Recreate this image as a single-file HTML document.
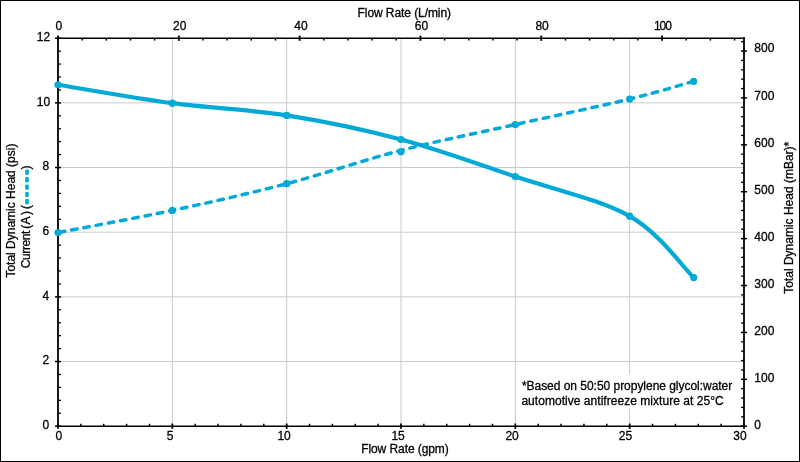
<!DOCTYPE html>
<html><head><meta charset="utf-8"><title>Pump curve</title>
<style>
html,body{margin:0;padding:0;background:#fff;}
body{width:800px;height:462px;overflow:hidden;position:relative;font-family:"Liberation Sans",sans-serif;}
</style></head><body>
<svg width="800" height="462" viewBox="0 0 800 462" style="position:absolute;left:0;top:0">
<rect x="0" y="0" width="800" height="462" fill="#fff"/>
<g stroke="#cacaca" stroke-width="1" fill="none">
<line x1="172.33" y1="38.2" x2="172.33" y2="426.2"/>
<line x1="286.67" y1="38.2" x2="286.67" y2="426.2"/>
<line x1="401.0" y1="38.2" x2="401.0" y2="426.2"/>
<line x1="515.33" y1="38.2" x2="515.33" y2="426.2"/>
<line x1="629.67" y1="38.2" x2="629.67" y2="426.2"/>
<line x1="58.0" y1="361.53" x2="744.0" y2="361.53"/>
<line x1="58.0" y1="296.87" x2="744.0" y2="296.87"/>
<line x1="58.0" y1="232.2" x2="744.0" y2="232.2"/>
<line x1="58.0" y1="167.53" x2="744.0" y2="167.53"/>
<line x1="58.0" y1="102.87" x2="744.0" y2="102.87"/>
</g>
<rect x="518" y="374.5" width="218" height="34" fill="#fff"/>
<g stroke="#000" fill="none" stroke-linecap="square">
<line x1="58.0" y1="38.2" x2="744.0" y2="38.2" stroke-width="1.65"/>
<line x1="58.0" y1="426.2" x2="744.0" y2="426.2" stroke-width="1.65"/>
<line x1="58.0" y1="38.2" x2="58.0" y2="426.2" stroke-width="1.8"/>
<line x1="744.0" y1="38.2" x2="744.0" y2="426.2" stroke-width="1.8"/>
</g>
<g stroke="#000" fill="none">
<line x1="55.0" y1="426.20" x2="61.0" y2="426.20" stroke-width="1.5"/>
<line x1="58.0" y1="413.27" x2="60.9" y2="413.27" stroke-width="1.3"/>
<line x1="58.0" y1="400.33" x2="60.9" y2="400.33" stroke-width="1.3"/>
<line x1="58.0" y1="387.40" x2="60.9" y2="387.40" stroke-width="1.3"/>
<line x1="58.0" y1="374.47" x2="60.9" y2="374.47" stroke-width="1.3"/>
<line x1="55.0" y1="361.53" x2="61.0" y2="361.53" stroke-width="1.5"/>
<line x1="58.0" y1="348.60" x2="60.9" y2="348.60" stroke-width="1.3"/>
<line x1="58.0" y1="335.67" x2="60.9" y2="335.67" stroke-width="1.3"/>
<line x1="58.0" y1="322.73" x2="60.9" y2="322.73" stroke-width="1.3"/>
<line x1="58.0" y1="309.80" x2="60.9" y2="309.80" stroke-width="1.3"/>
<line x1="55.0" y1="296.87" x2="61.0" y2="296.87" stroke-width="1.5"/>
<line x1="58.0" y1="283.93" x2="60.9" y2="283.93" stroke-width="1.3"/>
<line x1="58.0" y1="271.00" x2="60.9" y2="271.00" stroke-width="1.3"/>
<line x1="58.0" y1="258.07" x2="60.9" y2="258.07" stroke-width="1.3"/>
<line x1="58.0" y1="245.13" x2="60.9" y2="245.13" stroke-width="1.3"/>
<line x1="55.0" y1="232.20" x2="61.0" y2="232.20" stroke-width="1.5"/>
<line x1="58.0" y1="219.27" x2="60.9" y2="219.27" stroke-width="1.3"/>
<line x1="58.0" y1="206.33" x2="60.9" y2="206.33" stroke-width="1.3"/>
<line x1="58.0" y1="193.40" x2="60.9" y2="193.40" stroke-width="1.3"/>
<line x1="58.0" y1="180.47" x2="60.9" y2="180.47" stroke-width="1.3"/>
<line x1="55.0" y1="167.53" x2="61.0" y2="167.53" stroke-width="1.5"/>
<line x1="58.0" y1="154.60" x2="60.9" y2="154.60" stroke-width="1.3"/>
<line x1="58.0" y1="141.67" x2="60.9" y2="141.67" stroke-width="1.3"/>
<line x1="58.0" y1="128.73" x2="60.9" y2="128.73" stroke-width="1.3"/>
<line x1="58.0" y1="115.80" x2="60.9" y2="115.80" stroke-width="1.3"/>
<line x1="55.0" y1="102.87" x2="61.0" y2="102.87" stroke-width="1.5"/>
<line x1="58.0" y1="89.93" x2="60.9" y2="89.93" stroke-width="1.3"/>
<line x1="58.0" y1="77.00" x2="60.9" y2="77.00" stroke-width="1.3"/>
<line x1="58.0" y1="64.07" x2="60.9" y2="64.07" stroke-width="1.3"/>
<line x1="58.0" y1="51.13" x2="60.9" y2="51.13" stroke-width="1.3"/>
<line x1="55.0" y1="38.20" x2="61.0" y2="38.20" stroke-width="1.5"/>
<line x1="58.00" y1="423.55" x2="58.00" y2="428.84999999999997" stroke-width="1.8"/>
<line x1="80.87" y1="426.2" x2="80.87" y2="423.8" stroke-width="1.5"/>
<line x1="103.73" y1="426.2" x2="103.73" y2="423.8" stroke-width="1.5"/>
<line x1="126.60" y1="426.2" x2="126.60" y2="423.8" stroke-width="1.5"/>
<line x1="149.47" y1="426.2" x2="149.47" y2="423.8" stroke-width="1.5"/>
<line x1="172.33" y1="423.55" x2="172.33" y2="428.84999999999997" stroke-width="1.8"/>
<line x1="195.20" y1="426.2" x2="195.20" y2="423.8" stroke-width="1.5"/>
<line x1="218.07" y1="426.2" x2="218.07" y2="423.8" stroke-width="1.5"/>
<line x1="240.93" y1="426.2" x2="240.93" y2="423.8" stroke-width="1.5"/>
<line x1="263.80" y1="426.2" x2="263.80" y2="423.8" stroke-width="1.5"/>
<line x1="286.67" y1="423.55" x2="286.67" y2="428.84999999999997" stroke-width="1.8"/>
<line x1="309.53" y1="426.2" x2="309.53" y2="423.8" stroke-width="1.5"/>
<line x1="332.40" y1="426.2" x2="332.40" y2="423.8" stroke-width="1.5"/>
<line x1="355.27" y1="426.2" x2="355.27" y2="423.8" stroke-width="1.5"/>
<line x1="378.13" y1="426.2" x2="378.13" y2="423.8" stroke-width="1.5"/>
<line x1="401.00" y1="423.55" x2="401.00" y2="428.84999999999997" stroke-width="1.8"/>
<line x1="423.87" y1="426.2" x2="423.87" y2="423.8" stroke-width="1.5"/>
<line x1="446.73" y1="426.2" x2="446.73" y2="423.8" stroke-width="1.5"/>
<line x1="469.60" y1="426.2" x2="469.60" y2="423.8" stroke-width="1.5"/>
<line x1="492.47" y1="426.2" x2="492.47" y2="423.8" stroke-width="1.5"/>
<line x1="515.33" y1="423.55" x2="515.33" y2="428.84999999999997" stroke-width="1.8"/>
<line x1="538.20" y1="426.2" x2="538.20" y2="423.8" stroke-width="1.5"/>
<line x1="561.07" y1="426.2" x2="561.07" y2="423.8" stroke-width="1.5"/>
<line x1="583.93" y1="426.2" x2="583.93" y2="423.8" stroke-width="1.5"/>
<line x1="606.80" y1="426.2" x2="606.80" y2="423.8" stroke-width="1.5"/>
<line x1="629.67" y1="423.55" x2="629.67" y2="428.84999999999997" stroke-width="1.8"/>
<line x1="652.53" y1="426.2" x2="652.53" y2="423.8" stroke-width="1.5"/>
<line x1="675.40" y1="426.2" x2="675.40" y2="423.8" stroke-width="1.5"/>
<line x1="698.27" y1="426.2" x2="698.27" y2="423.8" stroke-width="1.5"/>
<line x1="721.13" y1="426.2" x2="721.13" y2="423.8" stroke-width="1.5"/>
<line x1="744.00" y1="423.55" x2="744.00" y2="428.84999999999997" stroke-width="1.8"/>
<line x1="58.00" y1="35.550000000000004" x2="58.00" y2="40.85" stroke-width="1.8"/>
<line x1="82.16" y1="38.2" x2="82.16" y2="40.6" stroke-width="1.5"/>
<line x1="106.33" y1="38.2" x2="106.33" y2="40.6" stroke-width="1.5"/>
<line x1="130.49" y1="38.2" x2="130.49" y2="40.6" stroke-width="1.5"/>
<line x1="154.65" y1="38.2" x2="154.65" y2="40.6" stroke-width="1.5"/>
<line x1="178.81" y1="35.550000000000004" x2="178.81" y2="40.85" stroke-width="1.8"/>
<line x1="202.98" y1="38.2" x2="202.98" y2="40.6" stroke-width="1.5"/>
<line x1="227.14" y1="38.2" x2="227.14" y2="40.6" stroke-width="1.5"/>
<line x1="251.30" y1="38.2" x2="251.30" y2="40.6" stroke-width="1.5"/>
<line x1="275.47" y1="38.2" x2="275.47" y2="40.6" stroke-width="1.5"/>
<line x1="299.63" y1="35.550000000000004" x2="299.63" y2="40.85" stroke-width="1.8"/>
<line x1="323.79" y1="38.2" x2="323.79" y2="40.6" stroke-width="1.5"/>
<line x1="347.96" y1="38.2" x2="347.96" y2="40.6" stroke-width="1.5"/>
<line x1="372.12" y1="38.2" x2="372.12" y2="40.6" stroke-width="1.5"/>
<line x1="396.28" y1="38.2" x2="396.28" y2="40.6" stroke-width="1.5"/>
<line x1="420.44" y1="35.550000000000004" x2="420.44" y2="40.85" stroke-width="1.8"/>
<line x1="444.61" y1="38.2" x2="444.61" y2="40.6" stroke-width="1.5"/>
<line x1="468.77" y1="38.2" x2="468.77" y2="40.6" stroke-width="1.5"/>
<line x1="492.93" y1="38.2" x2="492.93" y2="40.6" stroke-width="1.5"/>
<line x1="517.10" y1="38.2" x2="517.10" y2="40.6" stroke-width="1.5"/>
<line x1="541.26" y1="35.550000000000004" x2="541.26" y2="40.85" stroke-width="1.8"/>
<line x1="565.42" y1="38.2" x2="565.42" y2="40.6" stroke-width="1.5"/>
<line x1="589.58" y1="38.2" x2="589.58" y2="40.6" stroke-width="1.5"/>
<line x1="613.75" y1="38.2" x2="613.75" y2="40.6" stroke-width="1.5"/>
<line x1="637.91" y1="38.2" x2="637.91" y2="40.6" stroke-width="1.5"/>
<line x1="662.07" y1="35.550000000000004" x2="662.07" y2="40.85" stroke-width="1.8"/>
<line x1="686.24" y1="38.2" x2="686.24" y2="40.6" stroke-width="1.5"/>
<line x1="710.40" y1="38.2" x2="710.40" y2="40.6" stroke-width="1.5"/>
<line x1="734.56" y1="38.2" x2="734.56" y2="40.6" stroke-width="1.5"/>
<line x1="741.0" y1="426.20" x2="747.0" y2="426.20" stroke-width="1.5"/>
<line x1="744.0" y1="416.82" x2="741.1" y2="416.82" stroke-width="1.3"/>
<line x1="744.0" y1="407.44" x2="741.1" y2="407.44" stroke-width="1.3"/>
<line x1="744.0" y1="398.06" x2="741.1" y2="398.06" stroke-width="1.3"/>
<line x1="744.0" y1="388.68" x2="741.1" y2="388.68" stroke-width="1.3"/>
<line x1="741.0" y1="379.30" x2="747.0" y2="379.30" stroke-width="1.5"/>
<line x1="744.0" y1="369.93" x2="741.1" y2="369.93" stroke-width="1.3"/>
<line x1="744.0" y1="360.55" x2="741.1" y2="360.55" stroke-width="1.3"/>
<line x1="744.0" y1="351.17" x2="741.1" y2="351.17" stroke-width="1.3"/>
<line x1="744.0" y1="341.79" x2="741.1" y2="341.79" stroke-width="1.3"/>
<line x1="741.0" y1="332.41" x2="747.0" y2="332.41" stroke-width="1.5"/>
<line x1="744.0" y1="323.03" x2="741.1" y2="323.03" stroke-width="1.3"/>
<line x1="744.0" y1="313.65" x2="741.1" y2="313.65" stroke-width="1.3"/>
<line x1="744.0" y1="304.27" x2="741.1" y2="304.27" stroke-width="1.3"/>
<line x1="744.0" y1="294.89" x2="741.1" y2="294.89" stroke-width="1.3"/>
<line x1="741.0" y1="285.51" x2="747.0" y2="285.51" stroke-width="1.5"/>
<line x1="744.0" y1="276.13" x2="741.1" y2="276.13" stroke-width="1.3"/>
<line x1="744.0" y1="266.76" x2="741.1" y2="266.76" stroke-width="1.3"/>
<line x1="744.0" y1="257.38" x2="741.1" y2="257.38" stroke-width="1.3"/>
<line x1="744.0" y1="248.00" x2="741.1" y2="248.00" stroke-width="1.3"/>
<line x1="741.0" y1="238.62" x2="747.0" y2="238.62" stroke-width="1.5"/>
<line x1="744.0" y1="229.24" x2="741.1" y2="229.24" stroke-width="1.3"/>
<line x1="744.0" y1="219.86" x2="741.1" y2="219.86" stroke-width="1.3"/>
<line x1="744.0" y1="210.48" x2="741.1" y2="210.48" stroke-width="1.3"/>
<line x1="744.0" y1="201.10" x2="741.1" y2="201.10" stroke-width="1.3"/>
<line x1="741.0" y1="191.72" x2="747.0" y2="191.72" stroke-width="1.5"/>
<line x1="744.0" y1="182.34" x2="741.1" y2="182.34" stroke-width="1.3"/>
<line x1="744.0" y1="172.96" x2="741.1" y2="172.96" stroke-width="1.3"/>
<line x1="744.0" y1="163.59" x2="741.1" y2="163.59" stroke-width="1.3"/>
<line x1="744.0" y1="154.21" x2="741.1" y2="154.21" stroke-width="1.3"/>
<line x1="741.0" y1="144.83" x2="747.0" y2="144.83" stroke-width="1.5"/>
<line x1="744.0" y1="135.45" x2="741.1" y2="135.45" stroke-width="1.3"/>
<line x1="744.0" y1="126.07" x2="741.1" y2="126.07" stroke-width="1.3"/>
<line x1="744.0" y1="116.69" x2="741.1" y2="116.69" stroke-width="1.3"/>
<line x1="744.0" y1="107.31" x2="741.1" y2="107.31" stroke-width="1.3"/>
<line x1="741.0" y1="97.93" x2="747.0" y2="97.93" stroke-width="1.5"/>
<line x1="744.0" y1="88.55" x2="741.1" y2="88.55" stroke-width="1.3"/>
<line x1="744.0" y1="79.17" x2="741.1" y2="79.17" stroke-width="1.3"/>
<line x1="744.0" y1="69.79" x2="741.1" y2="69.79" stroke-width="1.3"/>
<line x1="744.0" y1="60.41" x2="741.1" y2="60.41" stroke-width="1.3"/>
<line x1="741.0" y1="51.04" x2="747.0" y2="51.04" stroke-width="1.5"/>
<line x1="744.0" y1="41.66" x2="741.1" y2="41.66" stroke-width="1.3"/>
</g>
<path d="M58.00,232.52 C77.06,228.84 134.22,218.54 172.33,210.41 C210.44,202.27 248.56,193.70 286.67,183.70 C324.78,173.70 362.89,160.26 401.00,150.40 C439.11,140.53 477.22,133.10 515.33,124.53 C553.44,115.96 599.94,106.18 629.67,98.99 C659.39,91.79 683.02,84.30 693.69,81.37" fill="none" stroke="#00a9d6" stroke-width="3.5" stroke-dasharray="5.45 6.98" stroke-dashoffset="-1.6" stroke-linecap="round"/>
<path d="M58.00,84.76 C77.06,87.83 134.22,98.08 172.33,103.19 C210.44,108.30 248.56,109.36 286.67,115.41 C324.78,121.46 362.89,129.30 401.00,139.50 C439.11,149.70 477.22,163.80 515.33,176.59 C553.44,189.37 599.94,199.36 629.67,216.19 C659.39,233.03 683.02,267.36 693.69,277.60" fill="none" stroke="#00a9d6" stroke-width="4.2" stroke-linecap="round" stroke-linejoin="round"/>
<circle cx="58.00" cy="84.76" r="3.6" fill="#00a9d6"/>
<circle cx="172.33" cy="103.19" r="3.6" fill="#00a9d6"/>
<circle cx="286.67" cy="115.41" r="3.6" fill="#00a9d6"/>
<circle cx="401.00" cy="139.50" r="3.6" fill="#00a9d6"/>
<circle cx="515.33" cy="176.59" r="3.6" fill="#00a9d6"/>
<circle cx="629.67" cy="216.19" r="3.6" fill="#00a9d6"/>
<circle cx="693.69" cy="277.60" r="3.6" fill="#00a9d6"/>
<circle cx="58.00" cy="232.52" r="3.6" fill="#00a9d6"/>
<circle cx="172.33" cy="210.41" r="3.6" fill="#00a9d6"/>
<circle cx="286.67" cy="183.70" r="3.6" fill="#00a9d6"/>
<circle cx="401.00" cy="151.69" r="3.6" fill="#00a9d6"/>
<circle cx="515.33" cy="124.53" r="3.6" fill="#00a9d6"/>
<circle cx="629.67" cy="98.99" r="3.6" fill="#00a9d6"/>
<circle cx="693.69" cy="81.37" r="3.6" fill="#00a9d6"/>
<g font-family="Liberation Sans, sans-serif" font-size="12" fill="#000" stroke="#000" stroke-width="0.3" opacity="0.999">
<text x="58.90" y="440" text-anchor="middle">0</text>
<text x="170.00" y="440" text-anchor="middle">5</text>
<text x="284.10" y="440" text-anchor="middle">10</text>
<text x="398.10" y="440" text-anchor="middle">15</text>
<text x="512.10" y="440" text-anchor="middle">20</text>
<text x="625.40" y="440" text-anchor="middle">25</text>
<text x="740.00" y="440" text-anchor="middle">30</text>
<text x="58.90" y="30" text-anchor="middle">0</text>
<text x="179.75" y="30" text-anchor="middle">20</text>
<text x="301.00" y="30" text-anchor="middle">40</text>
<text x="421.50" y="30" text-anchor="middle">60</text>
<text x="542.10" y="30" text-anchor="middle">80</text>
<text x="653.9" y="30" text-anchor="start" letter-spacing="-1.0">100</text>
<text x="49.3" y="428.90" text-anchor="end">0</text>
<text x="49.3" y="364.23" text-anchor="end">2</text>
<text x="49.3" y="299.57" text-anchor="end">4</text>
<text x="49.3" y="234.90" text-anchor="end">6</text>
<text x="49.3" y="170.23" text-anchor="end">8</text>
<text x="50.2" y="105.57" text-anchor="end">10</text>
<text x="50.2" y="40.90" text-anchor="end">12</text>
<text x="754.3" y="428.80" text-anchor="start">0</text>
<text x="754.3" y="381.90" text-anchor="start">100</text>
<text x="754.3" y="335.01" text-anchor="start">200</text>
<text x="754.3" y="288.11" text-anchor="start">300</text>
<text x="754.3" y="241.22" text-anchor="start">400</text>
<text x="754.3" y="194.32" text-anchor="start">500</text>
<text x="754.3" y="147.43" text-anchor="start">600</text>
<text x="754.3" y="100.03" text-anchor="start">700</text>
<text x="754.3" y="52.34" text-anchor="start">800</text>
<text x="357.6" y="17" text-anchor="start" letter-spacing="-0.08">Flow Rate (L/min)</text>
<text x="361.2" y="453" text-anchor="start" letter-spacing="-0.08">Flow Rate (gpm)</text>
<text transform="translate(15.3,277.6) rotate(-90)" text-anchor="start">Total Dynamic Head (psi)</text>
<text transform="translate(29.6,268.2) rotate(-90)" text-anchor="start" letter-spacing="-0.4">Current</text>
<text transform="translate(29.6,228.8) rotate(-90)" text-anchor="start" dx="0 0.4 1.5">(A)</text>
<text transform="translate(29.6,208.9) rotate(-90)" text-anchor="start">(</text>
<text transform="translate(29.6,169.6) rotate(-90)" text-anchor="start">)</text>
<text transform="translate(792.6,293.8) rotate(-90)" text-anchor="start">Total Dynamic Head (mBar)*</text>
<text x="521.9" y="389.5" letter-spacing="-0.03">*Based on 50:50 propylene glycol:water</text>
<text x="521.4" y="404.5" letter-spacing="0.04">automotive antifreeze mixture at 25°C</text>
</g>
<rect x="25.2" y="169.50" width="3.6" height="5.40" rx="1.1" ry="1.1" fill="#00a9d6"/>
<rect x="25.2" y="177.00" width="3.6" height="5.40" rx="1.1" ry="1.1" fill="#00a9d6"/>
<rect x="25.2" y="184.40" width="3.6" height="5.40" rx="1.1" ry="1.1" fill="#00a9d6"/>
<rect x="25.2" y="191.90" width="3.6" height="5.20" rx="1.1" ry="1.1" fill="#00a9d6"/>
<rect x="25.2" y="199.00" width="3.6" height="5.40" rx="1.1" ry="1.1" fill="#00a9d6"/>
<rect x="0.5" y="0.5" width="799" height="461" fill="none" stroke="#000" stroke-width="1"/>
</svg>
</body></html>
